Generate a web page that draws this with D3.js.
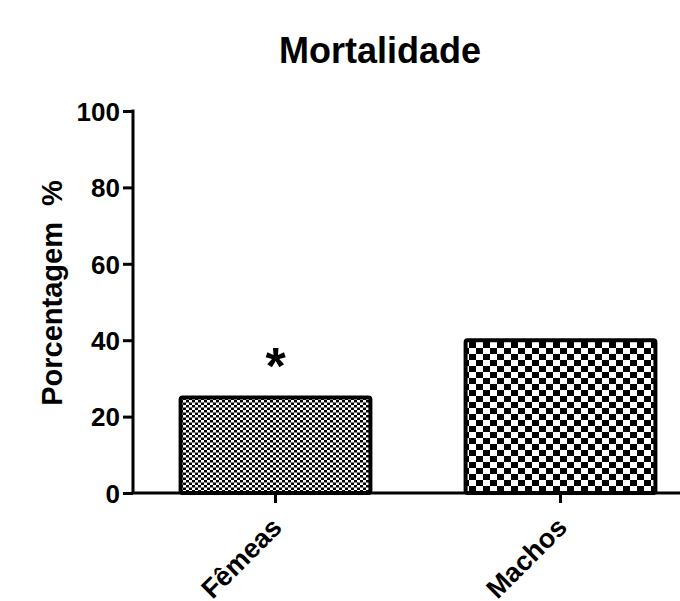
<!DOCTYPE html>
<html>
<head>
<meta charset="utf-8">
<script src="https://cdn.jsdelivr.net/npm/d3@7"></script>
<style>
  body { margin: 0; background: #fff; }
  text { font-family: "Liberation Sans", Arial, sans-serif; font-weight: bold; fill: #000; }
</style>
</head>
<body>
<div id="chart"></div>
<script>
// data
var categories = ['Fêmeas', 'Machos'];
var values = [25, 40];
var yTicks = [0, 20, 40, 60, 80, 100];
var marks = ['*', ''];

var width = 680;
var height = 601;

var svg = d3.select('#chart')
  .append('svg')
  .attr('width', width)
  .attr('height', height);

// checker patterns, fine for females, coarse for males
var defs = svg.append('defs');
function checker(id, w, h) {
  var p = defs.append('pattern')
    .attr('id', id)
    .attr('patternUnits', 'userSpaceOnUse')
    .attr('width', w * 2)
    .attr('height', h * 2);
  p.append('rect').attr('width', w * 2).attr('height', h * 2).attr('fill', '#fff');
  p.append('rect').attr('width', w).attr('height', h).attr('fill', '#000');
  p.append('rect').attr('x', w).attr('y', h).attr('width', w).attr('height', h).attr('fill', '#000');
}
checker('fine', 3, 2.5);
checker('coarse', 7, 6);
var fills = ['url(#fine)', 'url(#coarse)'];

var x = d3.scaleBand()
  .domain(categories)
  .range([133, 703])
  .paddingInner(0.32)
  .paddingOuter(0.16);

var y = d3.scaleLinear()
  .domain([0, 100])
  .range([493, 111]);

// bars
svg.selectAll('.bar')
  .data(values)
  .enter().append('rect')
  .attr('class', 'bar')
  .attr('x', function(d, i) { return x(categories[i]) + 2; })
  .attr('y', function(d) { return y(d); })
  .attr('width', x.bandwidth() - 4)
  .attr('height', function(d) { return y(0) - y(d); })
  .attr('rx', 2)
  .style('fill', function(d, i) { return fills[i]; })
  .style('stroke', '#000')
  .style('stroke-width', 4);

// significance mark
svg.selectAll('.mark')
  .data(values)
  .enter().append('text')
  .attr('class', 'mark')
  .attr('x', function(d, i) { return x(categories[i]) + x.bandwidth() / 2; })
  .attr('y', function(d) { return y(d) - 14; })
  .attr('text-anchor', 'middle')
  .style('font-size', '52px')
  .text(function(d, i) { return marks[i]; });

// y axis
var yAxis = svg.append('g')
  .attr('transform', 'translate(133,0)')
  .call(d3.axisLeft(y).tickValues(yTicks).tickSize(10).tickPadding(3));

// x axis
var xAxis = svg.append('g')
  .attr('transform', 'translate(0,' + y(0) + ')')
  .call(d3.axisBottom(x).tickSize(10).tickSizeOuter(0));

[yAxis, xAxis].forEach(function(g) {
  g.selectAll('path, line').style('stroke', '#000').style('stroke-width', 3);
});
yAxis.select('.domain').attr('d', 'M133,' + y(0) + 'V' + (y(100) - 1.5)).attr('transform', 'translate(-133,0)');
xAxis.select('.domain').attr('d', 'M131.5,0H' + width);
yAxis.selectAll('text').style('font-size', '26px').attr('dy', '0.36em');

xAxis.selectAll('text')
  .style('font-size', '27px')
  .attr('text-anchor', 'end')
  .attr('dy', 0)
  .attr('y', 0)
  .attr('transform', 'translate(8,36) rotate(-45)');

// title
svg.append('text')
  .attr('x', 380)
  .attr('y', 63)
  .attr('text-anchor', 'middle')
  .style('font-size', '36px')
  .text('Mortalidade');

// y label
svg.append('text')
  .attr('transform', 'translate(62,293) rotate(-90)')
  .attr('text-anchor', 'middle')
  .style('font-size', '29px')
  .style('white-space', 'pre')
  .text('Porcentagem  %');
</script>
</body>
</html>
